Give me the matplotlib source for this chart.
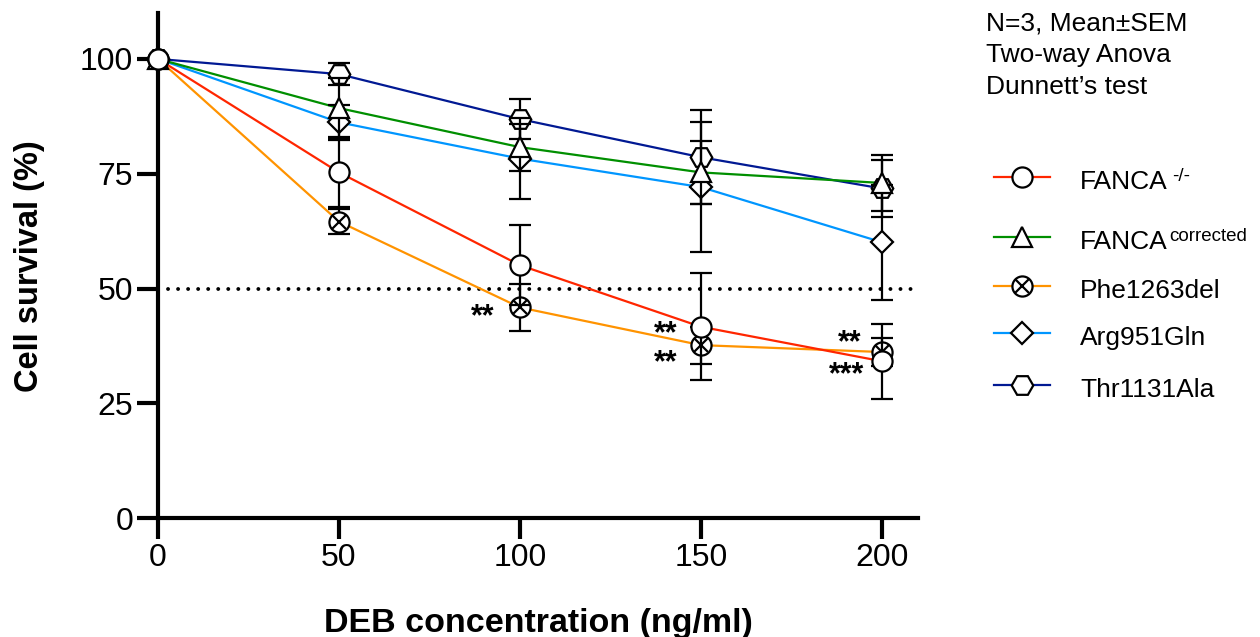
import matplotlib
matplotlib.use("Agg")
import matplotlib.pyplot as plt
import numpy as np

plt.rcParams["font.family"] = ["Liberation Sans", "DejaVu Sans"]

# DEB dose (ng/ml)
dose = [0, 50, 100, 150, 200]

# mean cell survival (%) and SEM
fanca_ko = [100, 75.3, 55.1, 41.7, 34.2]
fanca_ko_sem = [0, 7.6, 8.7, 11.6, 8.2]
fanca_corr = [100, 89.3, 80.8, 75.3, 73.0]
fanca_corr_sem = [0, 6.6, 5.1, 6.9, 6.0]
phe1263del = [100, 64.6, 45.9, 37.7, 36.2]
phe1263del_sem = [0, 2.8, 5.2, 4.0, 3.0]
arg951gln = [100, 86.2, 78.3, 72.1, 60.1]
arg951gln_sem = [0, 3.8, 8.8, 14.1, 12.5]
thr1131ala = [100, 96.7, 86.9, 78.6, 71.8]
thr1131ala_sem = [0, 2.4, 4.4, 10.2, 6.1]

series = [
    ("FANCA", "-/-", fanca_ko, fanca_ko_sem, "#ff2600", "o"),
    ("FANCA", "corrected", fanca_corr, fanca_corr_sem, "#008f00", "^"),
    ("Phe1263del", "", phe1263del, phe1263del_sem, "#ff9300", "ox"),
    ("Arg951Gln", "", arg951gln, arg951gln_sem, "#0096ff", "D"),
    ("Thr1131Ala", "", thr1131ala, thr1131ala_sem, "#011993", "H"),
]

# significance stars: (series index, dose, text, dx pt, dy pt)
stars = [
    (2, 100, "**", -18, -13),
    (0, 150, "**", -17, -11),
    (2, 150, "**", -17, -18.5),
    (2, 200, "**", -15, 0.5),
    (0, 200, "***", -13, -16),
]

msize = {"o": 14.5, "^": 14.5, "ox": 14.5, "D": 10.8, "H": 15.5}


def draw_marker(a, x, y, m, z, **kw):
    mk = "o" if m == "ox" else m
    a.plot(x, y, ls="none", marker=mk, ms=msize[m], mfc="white", mec="black",
           mew=1.6, zorder=z, clip_on=False, **kw)
    if m == "ox":
        a.plot(x, y, ls="none", marker="x", ms=9.8, mec="black", mew=1.6,
               zorder=z + 0.01, clip_on=False, **kw)


fig = plt.figure(figsize=(12.6, 6.37), dpi=100)
ax = fig.add_axes([0.1254, 0.1863, 0.6032, 0.7933])

ax.axhline(50, color="black", lw=2.8, ls=(0, (0.01, 2.57)),
           dash_capstyle="round", zorder=1)

n = len(series)
for i, (name, sup, y, e, c, m) in enumerate(series):
    ax.plot(dose, y, color=c, lw=1.6, zorder=2 + (n - i) * 0.01)
# first data set ends up on top, as in the original
for i, (name, sup, y, e, c, m) in enumerate(series):
    z = 3 + (n - i) * 0.1
    ax.errorbar(dose, y, yerr=e, fmt="none", ecolor="black", elinewidth=1.6,
                capsize=8, capthick=1.6, zorder=z)
    draw_marker(ax, dose, y, m, z + 0.05)

for k, x, txt, dx, dy in stars:
    yv = series[k][2][dose.index(x)]
    ax.annotate(txt, xy=(x, yv), xytext=(dx, dy), textcoords="offset points",
                ha="right", va="baseline", fontsize=22, fontweight="bold")

ax.set_xlim(0, 210)
ax.set_ylim(0, 110)
ax.set_xticks([0, 50, 100, 150, 200])
ax.set_yticks([0, 25, 50, 75, 100])
for s in ["top", "right"]:
    ax.spines[s].set_visible(False)
for s in ["left", "bottom"]:
    ax.spines[s].set_linewidth(3)
ax.tick_params(length=15, width=3, labelsize=23, pad=3)

ax.set_xlabel("DEB concentration (ng/ml)", fontsize=24.5, fontweight="bold")
ax.xaxis.set_label_coords(0.5, -0.177)
ax.set_ylabel("Cell survival (%)", fontsize=23.5, fontweight="bold")
ax.yaxis.set_label_coords(-0.149, 0.5)

# legend and notes on a pixel-coordinate overlay
lg = fig.add_axes([0, 0, 1, 1])
lg.set_xlim(0, 1260)
lg.set_ylim(637, 0)
lg.axis("off")

notes = ["N=3, Mean\u00b1SEM", "Two-way Anova", "Dunnett\u2019s test"]
for j, t in enumerate(notes):
    lg.text(986, 30 + j * 32.2, t, fontsize=19, va="baseline", ha="left")

rows_y = [176.7, 236.7, 286, 333.3, 385]
for (name, sup, y, e, c, m), ry in zip(series, rows_y):
    lg.plot([994, 1050], [ry, ry], color=c, lw=1.6)
    draw_marker(lg, [1022], [ry], m, 3)
    t = lg.text(1080, ry + 12, name, fontsize=19, va="baseline", ha="left")
    if sup:
        gap = 4 if sup == "-/-" else 1
        lg.annotate(sup, xy=(1, 0), xycoords=t, xytext=(gap, 13),
                    textcoords="offset pixels", fontsize=13.5,
                    va="baseline", ha="left")

fig.savefig("out.png", dpi=100)
